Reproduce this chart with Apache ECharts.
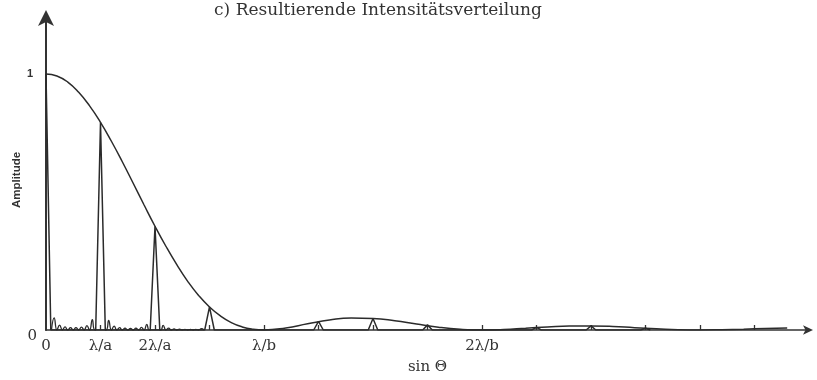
<!doctype html>
<html lang="de">
<head>
    <meta charset="UTF-8">
    <title>Resultierende Intensitätsverteilung</title>
    <script src="https://cdn.jsdelivr.net/npm/echarts@6/dist/echarts.min.js"></script>
    <style>
        html, body { margin: 0; padding: 0; background: #fff; }
        #chart { width: 817px; height: 380px; }
    </style>
</head>
<body>
<div id="chart"></div>
<script>
    // Einhüllende (Einzelspalt)
    const envX = [0, 0.05, 0.1, 0.15, 0.2, 0.25, 0.3, 0.35, 0.4, 0.45, 0.5, 0.55, 0.6, 0.65, 0.7, 0.75, 0.8, 0.85, 0.9, 0.95, 1.0,
        1.1, 1.2, 1.3, 1.4, 1.5, 1.6, 1.7, 1.8, 1.9, 2.0, 2.1, 2.2, 2.3, 2.4, 2.5, 2.6, 2.7, 2.8, 2.9, 3.0, 3.1, 3.2, 3.3, 3.4]
    const envY = [1, 0.992, 0.968, 0.928, 0.875, 0.811, 0.737, 0.657, 0.573, 0.488, 0.405, 0.327, 0.255, 0.190, 0.135, 0.090, 0.055, 0.029, 0.012, 0.003, 0,
        0.008, 0.024, 0.039, 0.047, 0.045, 0.036, 0.023, 0.011, 0.003, 0, 0.002, 0.007, 0.012, 0.016, 0.016, 0.014, 0.009, 0.005, 0.001, 0, 0.001, 0.003, 0.006, 0.008]

    // Hauptmaxima bei k·λ/a
    const peakX = [0, 0.25, 0.5, 0.75, 1.25, 1.5, 1.75, 2.25, 2.5, 2.75]
    const peakY = [1, 0.81, 0.405, 0.09, 0.034, 0.045, 0.02, 0.01, 0.016, 0.007]

    // Nebenmaxima zwischen den Hauptmaxima
    const lobeOffsets = [0.0375, 0.0625, 0.0875, 0.1125, 0.1375, 0.1625, 0.1875, 0.2125]
    const lobesA = [0.047, 0.019, 0.012, 0.009, 0.009, 0.011, 0.017, 0.040]
    const lobesB = [0.037, 0.015, 0.009, 0.007, 0.006, 0.007, 0.010, 0.022]
    const lobesC = [0.018, 0.007, 0.004, 0.003, 0.002, 0.002, 0.002, 0.005]

    // Achsenbeschriftung
    const xLabelVals = [0, 0.25, 0.5, 1, 2]
    const xLabelText = ['0', 'λ/a', '2λ/a', 'λ/b', '2λ/b']
    const xTickVals = [0.25, 0.5, 0.75, 1, 1.25, 1.5, 1.75, 2, 2.25, 2.5, 2.75, 3, 3.25]

    const peakHalf = 0.022
    const lobeHalf = 0.0125
    const ink = '#2b2b2b'
    const serif = 'DejaVu Serif'

    const envData = envX.map((x, i) => [x, envY[i]])

    const peakData = []
    peakX.forEach((x, i) => {
        if (x > 0) peakData.push([x - peakHalf, 0])
        peakData.push([x, peakY[i]])
        peakData.push([x + peakHalf, 0])
    })

    const lobeData = [];
    [lobesA, lobesB, lobesC].forEach((arr, k) => {
        const base = k * 0.25
        lobeData.push([base + lobeOffsets[0] - lobeHalf, 0])
        arr.forEach((h, j) => {
            lobeData.push([base + lobeOffsets[j], h])
            lobeData.push([base + lobeOffsets[j] + lobeHalf, 0])
        })
    })

    const chart = echarts.init(document.getElementById('chart'))
    const option = {
        animation: false,
        grid: {left: 46, right: 8, top: 16, bottom: 44},
        graphic: [
            {
                type: 'text', x: 378, y: 2,
                style: {text: 'c) Resultierende Intensitätsverteilung', font: '17px "DejaVu Serif"', fill: '#333', textAlign: 'center'}
            },
            {
                type: 'text', x: 17, y: 180, rotation: Math.PI / 2,
                style: {text: 'Amplitude', font: 'bold 11.5px "Liberation Sans"', fill: '#333', textAlign: 'center', textVerticalAlign: 'middle'}
            }
        ],
        xAxis: {
            type: 'value', min: 0, max: 3.5,
            name: 'sin Θ', nameLocation: 'middle', nameGap: 30,
            nameTextStyle: {fontFamily: serif, fontSize: 15, color: '#333'},
            splitLine: {show: false},
            axisLine: {symbol: ['none', 'arrow'], symbolSize: [7, 10], symbolOffset: [0, 4], lineStyle: {color: '#333', width: 1.6}},
            axisTick: {customValues: xTickVals, inside: true, length: 5, lineStyle: {color: '#333', width: 1.3}},
            axisLabel: {
                customValues: xLabelVals, margin: 9,
                fontFamily: serif, fontSize: 15, color: '#333',
                formatter: v => xLabelText[xLabelVals.indexOf(v)]
            }
        },
        yAxis: {
            type: 'value', min: 0, max: 1.226,
            splitLine: {show: false},
            axisLine: {symbol: ['none', 'arrow'], symbolSize: [12, 16], symbolOffset: [0, 6], lineStyle: {color: '#333', width: 2}},
            axisTick: {show: false},
            axisLabel: {
                customValues: [0, 1], margin: 9,
                formatter: v => v === 1 ? '{a|1}' : '{b|0}',
                rich: {
                    a: {fontFamily: 'Liberation Sans', fontWeight: 'bold', fontSize: 11, color: '#333', padding: [0, 4, 0, 0]},
                    b: {fontFamily: serif, fontSize: 15, color: '#333', padding: [12, 0, 0, 0]}
                }
            }
        },
        series: [
            {
                type: 'line', data: envData, smooth: true, symbol: 'none',
                lineStyle: {color: ink, width: 1.5}
            },
            {
                type: 'line', data: peakData, symbol: 'none',
                lineStyle: {color: ink, width: 1.5}
            },
            {
                type: 'line', data: lobeData, smooth: 0.5, symbol: 'none',
                lineStyle: {color: ink, width: 1.3}
            }
        ]
    }
    chart.setOption(option)
</script>
</body>
</html>
